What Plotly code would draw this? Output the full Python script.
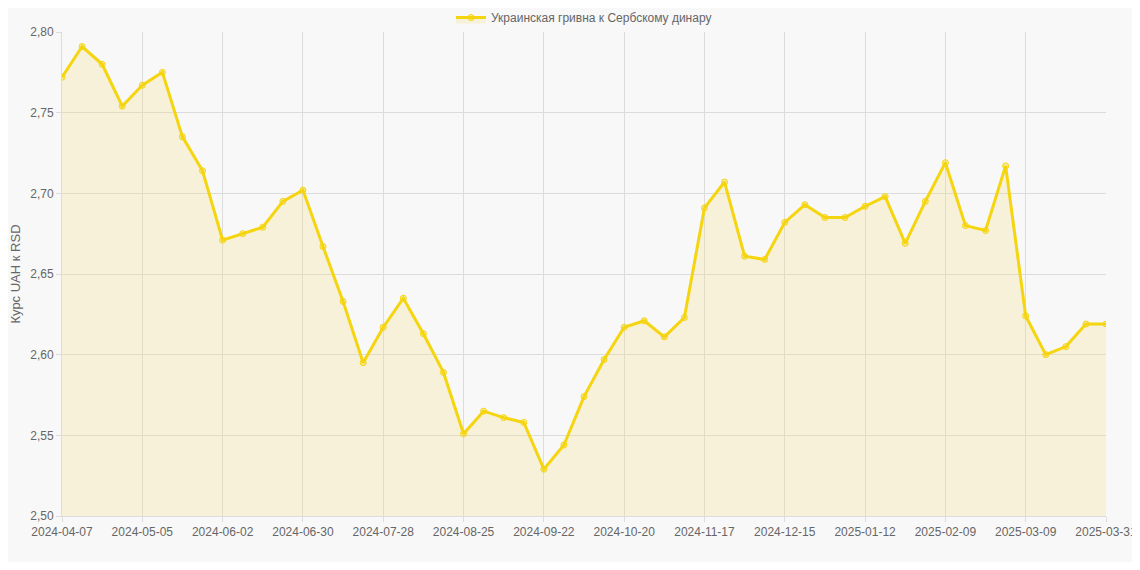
import plotly.graph_objects as go
import datetime as dt

start = dt.date(2024, 4, 7)
dates = [(start + dt.timedelta(weeks=i)).isoformat() for i in range(52)] + ["2025-03-31"]
values = [2.772, 2.791, 2.780, 2.754, 2.767, 2.775, 2.735, 2.714, 2.671, 2.675,
          2.679, 2.695, 2.702, 2.667, 2.633, 2.595, 2.617, 2.635, 2.613, 2.589,
          2.551, 2.565, 2.561, 2.558, 2.529, 2.544, 2.574, 2.597, 2.617, 2.621,
          2.611, 2.623, 2.691, 2.707, 2.661, 2.659, 2.682, 2.693, 2.685, 2.685,
          2.692, 2.698, 2.669, 2.695, 2.719, 2.680, 2.677, 2.717, 2.624, 2.600,
          2.605, 2.619, 2.619]
series_name = "Украинская гривна к Сербскому динару"
tick_idx = list(range(0, 49, 4)) + [52]
tick_labels = [dates[i] for i in tick_idx]

fig = go.Figure(go.Scatter(
    x=dates, y=values, name=series_name, mode="lines+markers",
    line=dict(color="#f5d50f", width=3),
    marker=dict(size=6, color="rgba(245,213,15,0.35)", line=dict(color="#f5d50f", width=1)),
    fill="tozeroy", fillcolor="rgba(240,220,120,0.25)"))

fig.update_layout(
    width=1124, height=554, margin=dict(l=54, r=26, t=24, b=46, autoexpand=False),
    paper_bgcolor="#f8f8f8", plot_bgcolor="#f8f8f8",
    font=dict(family="Liberation Sans, Arial", size=12, color="#666"),
    separators=",.", showlegend=True,
    legend=dict(orientation="h", x=0.5, xanchor="center", y=1.0, yanchor="bottom",
                font=dict(size=12, color="#666")),
    xaxis=dict(type="category", tickmode="array", tickvals=tick_labels, ticktext=tick_labels,
               showgrid=True, gridcolor="#dcdcdc", linecolor="#dcdcdc", tickangle=0,
               range=[0, 52], ticks="outside", tickcolor="#dcdcdc", ticklen=5, automargin=False),
    yaxis=dict(range=[2.5, 2.8], dtick=0.05, tickformat=".2f", showgrid=True,
               gridcolor="#dcdcdc", linecolor="#dcdcdc", zeroline=False, automargin=False,
               ticks="outside", tickcolor="#dcdcdc", ticklen=5,
               title=dict(text="Курс UAH к RSD", font=dict(size=13, color="#666"), standoff=8)),
)
fig.write_html("out.html")
